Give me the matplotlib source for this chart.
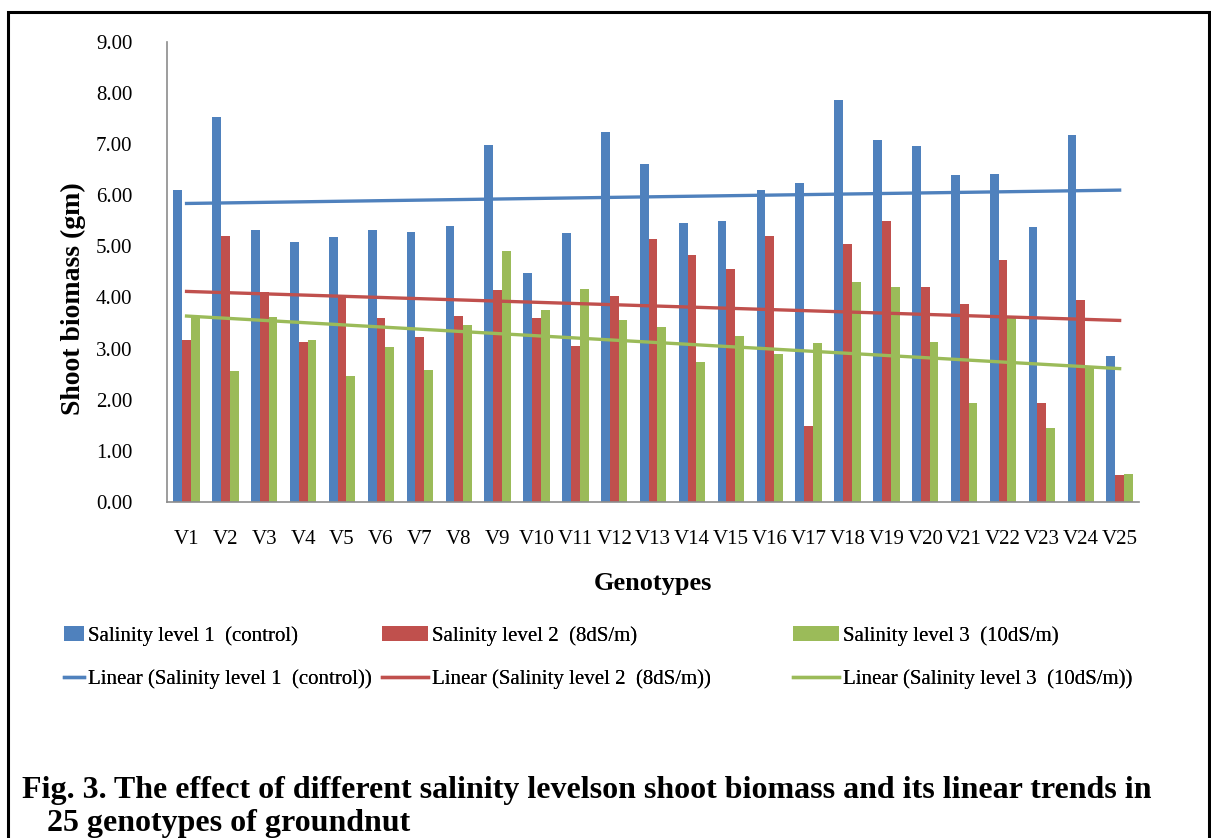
import numpy as np
import matplotlib.pyplot as plt
from matplotlib.patches import Rectangle

genotypes = ['V%d' % i for i in range(1, 26)]

# shoot biomass (gm) per genotype at each salinity level
level1 = [6.10, 7.54, 5.33, 5.08, 5.19, 5.33, 5.29, 5.39, 6.99, 4.47,
          5.27, 7.24, 6.62, 5.45, 5.49, 6.11, 6.24, 7.87, 7.09, 6.97,
          6.39, 6.41, 5.37, 7.17, 2.85]
level2 = [3.16, 5.21, 4.10, 3.13, 4.03, 3.59, 3.22, 3.63, 4.14, 3.59,
          3.05, 4.02, 5.14, 4.84, 4.56, 5.21, 1.48, 5.04, 5.49, 4.21,
          3.88, 4.73, 1.93, 3.96, 0.53]
level3 = [3.63, 2.56, 3.61, 3.16, 2.46, 3.03, 2.58, 3.46, 4.90, 3.75,
          4.16, 3.56, 3.43, 2.73, 3.24, 2.89, 3.11, 4.31, 4.21, 3.13,
          1.93, 3.59, 1.45, 2.64, 0.55]

labels = ['Salinity level 1  (control)', 'Salinity level 2  (8dS/m)',
          'Salinity level 3  (10dS/m)']
colors = ['#4F81BD', '#C0504D', '#9BBB59']

plt.rcParams['font.family'] = 'Liberation Serif'

W, H = 1211, 838
fig = plt.figure(figsize=(W / 100, H / 100), dpi=100)
ax = fig.add_axes([0.138, 0.401, 0.8026, 0.549])

x = np.arange(len(genotypes))
w = 0.226
pairs = []
for k, (vals, lab, col) in enumerate(zip([level1, level2, level3], labels, colors)):
    b = ax.bar(x + (k - 1) * w, vals, w, color=col, label=lab)
    # linear trend fitted over genotype index
    slope, icpt = np.polyfit(x + 1, vals, 1)
    ln, = ax.plot(x, slope * (x + 1) + icpt, color=col, lw=2.4,
                  label='Linear (%s)' % lab)
    pairs.append((b, ln))

ax.set_xlim(-0.5, len(genotypes) - 0.5)
ax.set_ylim(0, 9)
ax.set_yticks(np.arange(0, 10, 1))
ax.set_yticklabels(['%.2f' % v for v in np.arange(0, 10, 1)])
ax.set_xticks(x)
ax.set_xticklabels(genotypes)
ax.tick_params(axis='both', length=0, labelsize=15)
ax.tick_params(axis='x', pad=20)
ax.tick_params(axis='y', pad=25)
for s in ['top', 'right']:
    ax.spines[s].set_visible(False)
for s in ['left', 'bottom']:
    ax.spines[s].set_color('#8C8C8C')
    ax.spines[s].set_linewidth(1.2)

ax.set_ylabel('Shoot biomass (gm)', fontsize=20, fontweight='bold')
ax.yaxis.set_label_coords(-0.083, 0.443)
ax.set_xlabel('Genotypes', fontsize=19, fontweight='bold', labelpad=17)

# one legend column per salinity level: bar entry above its trend line
legend_x = [64, 382, 793]
handle_len = [0.95, 2.2, 2.2]
for (b, ln), lx, hl in zip(pairs, legend_x, handle_len):
    leg = fig.legend([b, ln], [b.get_label(), ln.get_label()],
                     loc='upper left', bbox_to_anchor=(lx / W, 1 - 626 / H),
                     frameon=False, fontsize=15, handlelength=hl,
                     handleheight=0.7, handletextpad=0.2, borderpad=0,
                     borderaxespad=0, labelspacing=1.15)
    fig.add_artist(leg)

# outer frame, open at the bottom edge of the page
fig.patches.append(Rectangle((8 / W, -0.05), 1201 / W, 1 - 12 / H + 0.05,
                             transform=fig.transFigure, fill=False,
                             edgecolor='black', lw=2.2))

fig.text(22 / W, 1 - 790 / H,
         'Fig. 3. The effect of different salinity levelson shoot biomass and its linear trends in',
         fontsize=23, fontweight='bold', va='center', ha='left')
fig.text(47 / W, 1 - 823 / H, '25 genotypes of groundnut',
         fontsize=23, fontweight='bold', va='center', ha='left')

fig.savefig('out.png', dpi=100)
